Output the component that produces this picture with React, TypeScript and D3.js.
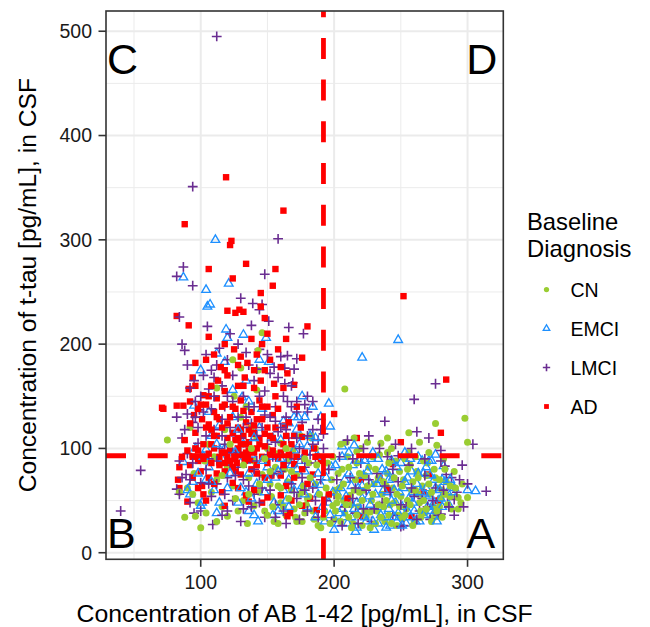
import React from 'react';
import * as d3 from 'd3';

// ---------- data ----------
const groups = ['CN', 'EMCI', 'LMCI', 'AD'];
const groupColors = ['#9ACD32', '#1E90FF', '#6A2D91', '#FF0000'];

const xTicks = [100, 200, 300];
const yTicks = [0, 100, 200, 300, 400, 500];
const xMinor = [50, 150, 250];
const yMinor = [50, 150, 250, 350, 450];
const cutoffX = 192;
const cutoffY = 93;
const quadrantLabels = ['C', 'D', 'B', 'A'];

const cnPoints: [number, number][] = [
  [75,108],[88,34],[100,24],[90,62],[95,76],[98,48],[103,88],[108,58],[112,70],[116,44],[120,82],[124,64],[128,95],[132,50],[136,72],[140,88],[144,58],[148,40],[152,66],[156,82],[160,48],[164,36],[168,60],[172,74],[176,30],[180,52],[184,40],[186,66],[188,26],[155,30],[162,44],[170,42],[174,56],[178,38],[166,90],[150,100],[142,110],[138,120],[130,130],[125,150],[118,118],[110,92],[106,104],[134,140],[157,95],[160,105],[163,80],[169,98],[175,112],[181,86],[186,100],[183,110],[120,35],[112,30],[96,35],[84,58],[140,45],[146,75],[153,54],[158,64],[171,34],[177,64],[179,46],[185,32],[189,56],[165,68],[128,40],[135,28],[92,120],
  [146,211],[143,194],[124,185],[130,177],[143,175],[112,158],[142,156],[209,106],[217,97],[240,96],[183,112],[181,54],
  [190,24],[193,40],[196,55],[198,70],[200,32],[202,48],[204,62],[206,80],[208,157],[208,38],[210,92],[212,55],[214,28],[216,70],[218,44],[220,100],[222,60],[224,34],[226,82],[228,50],[230,66],[232,40],[234,94],[236,56],[238,30],[240,76],[242,46],[244,62],[246,88],[248,36],[250,54],[252,70],[254,42],[256,96],[258,60],[260,30],[262,78],[264,48],[266,64],[268,38],[270,86],[272,56],[274,44],[276,72],[278,62],[280,52],[282,90],[284,68],[288,42],[290,78],[293,42],[293,53],[296,66],[298,129],[300,106],[276,124],[256,115],[264,106],[277,103],[300,53],[195,86],[205,104],[215,110],[225,106],[235,105],[240,110],[213,46],[219,58],[227,39],[233,72],[239,64],[245,48],[251,33],[257,84],[263,56],[269,74],[275,34],[281,60],[287,54],[217,86],[223,74],[229,92],[243,100],[253,90],[261,92],[271,96],[283,80],[201,60],[207,50],[231,28],[237,44],[247,26],[255,50],[265,40],[273,30],[279,44],[211,34],[221,26],[199,45],[203,76],[241,36],[249,78],[259,68],[267,88],
  [192,34],[194,62],[197,28],[199,92],[201,40],[203,54],[205,30],[207,66],[209,46],[211,82],[213,24],[215,60],[217,36],[219,76],[221,50],[223,40],[225,64],[227,24],[229,56],[231,80],[233,46],[235,34],[237,68],[239,50],[241,86],[243,28],[245,72],[247,56],[249,44],[251,64],[253,36],[255,80],[257,46],[259,26],[261,60],[263,72],[265,34],[267,50],[269,42],[271,66],[273,58],[275,80],[277,40],[279,70],[281,34],[283,56],[285,46],[287,64],[291,62],[295,48],
  [150,36],[154,44],[158,28],[166,52],[172,30],[176,58],[182,72],[187,84],[144,66],[136,56],[126,52],[104,38],[94,56],[160,62],[168,78],[174,46],[178,90],[148,90],[152,78],[132,84],[122,104],[116,74],[138,100],[164,100]
];

const emciPoints: [number, number][] = [
  [111,300],[87,264],[104,252],[105,236],[107,238],[121,258],[119,214],[120,206],[132,209],[149,206],[112,191],[118,183],[100,175],[144,185],[151,183],[134,165],[221,187],[248,204],[196,143],[184,140],[176,150],[170,130],[173,130],[166,124],[124,156],[131,149],[136,145],[95,141],[106,135],[87,87],[90,60],[101,48],[104,99],[197,121],[206,102],[276,94],[271,88],[282,83],[278,50],
  [92,56],[96,100],[100,45],[104,70],[108,112],[112,38],[116,90],[120,62],[124,130],[128,48],[132,104],[136,76],[140,36],[144,120],[148,58],[152,92],[156,72],[160,108],[164,50],[168,84],[172,118],[176,64],[180,44],[184,96],[188,56],[106,82],[114,122],[130,86],[138,94],[146,138],[154,110],[162,126],[170,98],[178,78],[186,34],[118,100],[134,58],[142,66],[150,82],[158,40],[166,70],[174,104],[182,112],[110,60],[94,68],[136,40],[143,30],[155,48],[162,60],[175,88],[188,76],[180,102],[190,130],
  [190,65],[193,30],[196,48],[198,82],[200,22],[202,58],[204,38],[206,92],[208,70],[210,28],[212,48],[214,84],[216,20],[218,62],[220,40],[222,74],[224,30],[226,54],[228,90],[230,22],[232,66],[234,44],[236,80],[238,34],[240,58],[242,26],[244,72],[246,48],[248,38],[250,86],[252,62],[254,28],[256,52],[258,78],[260,40],[262,66],[264,30],[266,88],[268,56],[270,44],[272,74],[274,36],[276,62],[280,52],[283,68],[286,46],[288,58],[300,60],[306,59],[206,42],[213,34],[221,52],[227,66],[233,28],[239,78],[245,60],[251,44],[257,34],[263,92],[269,62],[275,48],[281,70],[215,103],[229,96],[243,88],[253,96],[267,76],[273,88],[211,76],[223,88],[235,70],[247,30],[259,58],[217,48],[241,42],[255,72],
  [191,44],[194,72],[197,36],[199,58],[201,84],[203,28],[205,62],[207,34],[209,54],[211,96],[213,64],[215,42],[217,24],[219,88],[221,64],[223,34],[225,78],[227,46],[229,30],[231,56],[233,90],[235,36],[237,60],[239,24],[241,70],[243,50],[245,34],[247,82],[249,58],[251,26],[253,68],[255,40],[257,90],[259,48],[261,30],[263,76],[265,58],[267,36],[269,82],[271,54],[273,40],[275,70],[277,30],[279,60],[281,44],[285,58],[287,70],[290,62],
  [98,76],[102,92],[108,68],[114,48],[122,76],[126,96],[130,62],[138,52],[146,88],[150,70],[154,36],[160,90],[166,44],[172,80],[178,56],[184,66],[188,92],[170,60],[158,78],[140,110],[186,110],[178,130],[128,118],[112,104]
];

const lmciPoints: [number, number][] = [
  [112,495],[94,351],[158,301],[87,274],[82,265],[94,256],[148,267],[130,244],[139,239],[144,233],[146,238],[84,226],[105,217],[166,216],[138,218],[151,222],[165,189],[172,186],[155,178],[177,210],[163,177],[163,162],[169,163],[276,162],[260,147],[162,150],[165,145],[178,142],[184,145],[238,126],[271,110],[304,104],[314,59],[40,40],[55,79],[290,51],[285,54],[280,37],[88,194],[112,180],[110,168],[106,157],[90,133],[99,137],[89,75],[82,61],[95,38],[109,27],[100,67],[192,114],[243,89],[248,93],[283,83],[284,75],
  [86,200],[90,180],[95,165],[100,150],[104,190],[108,175],[116,160],[120,185],[124,170],[128,200],[132,150],[136,180],[140,165],[144,195],[148,155],[152,172],[156,140],[160,188],[164,130],[168,160],[172,145],[176,125],[180,135],[184,118],[188,108],
  [82,130],[86,110],[90,95],[94,125],[98,105],[102,135],[106,90],[110,118],[114,100],[118,140],[122,84],[126,112],[130,96],[134,130],[138,108],[142,88],[146,120],[150,104],[154,92],[158,116],[162,98],[166,110],[170,90],[174,100],[178,82],[182,94],[186,86],[190,118],[104,80],[112,66],[120,72],[128,82],[136,64],[144,74],[152,60],[160,78],[168,66],[176,72],[184,62],[190,70],[96,145],[116,128],[124,145],[132,120],[140,140],[148,132],[156,126],[164,118],[172,135],[180,112],
  [126,98],[134,86],[142,112],[118,104],[150,94],[138,124],[122,120],[130,110],
  [84,56],[92,48],[100,40],[108,54],[116,36],[124,50],[132,42],[140,56],[148,34],[156,46],[164,28],[172,52],[180,40],[188,34],[130,30],
  [192,100],[196,80],[200,56],[204,92],[208,44],[212,72],[216,38],[220,86],[224,60],[228,30],[232,76],[236,48],[240,92],[244,36],[248,68],[252,26],[256,84],[260,54],[264,40],[268,74],[272,32],[276,62],[280,88],[288,72],[292,58],[296,84],[300,66],[210,108],[226,112],[246,104],[262,116],[280,98],[198,30],[214,52],[230,42],[242,58],[254,44],[266,52],[278,36],[250,25],[218,28],[234,100],[270,44],[290,36],
  [84,88],[88,118],[92,70],[96,130],[100,92],[104,112],[108,138],[112,88],[116,112],[120,150],[124,96],[128,130],[132,70],[136,140],[140,80],[144,150],[148,90],[152,130],[156,106],[160,120],[164,86],[168,140],[172,110],[176,90],[180,150],[184,104],[188,128],[114,196],[122,210],[134,192],[142,176],[150,190],[158,168],[170,176],[110,150],[102,170],[92,158],[98,120],[106,66],[118,56],[126,74],[138,44],[146,62],[154,76],[162,40],[170,58],[178,60],[186,50],[174,32],[156,34],[144,48],[120,40],[86,72],[94,86],
  [194,50],[202,70],[206,26],[214,90],[222,42],[226,70],[238,64],[244,80],[250,46],[258,62],[262,32],[268,90],[274,50],[282,60],[286,44],[294,70],[297,44],[222,100],[258,100],[216,62]
];

const adPoints: [number, number][] = [
  [119,360],[162,328],[88,315],[123,299],[122,295],[106,272],[134,277],[124,263],[156,272],[154,256],[145,249],[82,227],[91,218],[106,207],[120,232],[126,230],[129,233],[132,231],[145,236],[148,225],[180,217],[164,205],[176,187],[170,161],[284,166],[252,246],[250,106],[280,115],[217,110],[200,133],[96,182],[94,168],[91,157],[102,151],[72,138],[82,141],[87,141],[71,139],[95,132],[101,128],[106,123],[84,82],[83,70],[90,49],[84,62],[102,56],[101,64],[220,70],[221,35],[234,72],[244,85],[258,35],[267,58],[271,75],[278,50],[276,41],[165,35],[184,75],[176,111],[163,122],[137,89],[153,74],[150,53],[136,49],[118,45],[124,67],[167,38],[182,52],[187,41],
  [104,185],[110,190],[115,178],[118,200],[125,195],[130,188],[135,182],[138,205],[142,190],[146,200],[150,210],[152,185],[158,195],[160,178],[165,172],[113,165],[120,170],[128,160],[133,168],[140,158],[145,165],[148,175],[155,162],[162,158],[108,160],[112,148],[118,155],
  [92,145],[98,138],[104,142],[110,135],[114,128],[118,142],[122,130],[126,138],[130,146],[134,125],[138,135],[142,128],[146,140],[150,120],[154,132],[158,138],[166,125],[170,112],[124,115],[128,120],[132,112],[136,118],[140,115],[108,118],[112,112],[96,115],[116,120],[120,110],[144,110],[148,102],[152,112],[175,120],[172,140],
  [90,98],[94,92],[98,88],[102,104],[106,95],[110,100],[114,92],[118,86],[122,98],[126,90],[130,104],[134,96],[138,80],[142,100],[146,92],[150,86],[154,98],[158,90],[162,104],[166,94],[170,85],[118,78],[124,82],[130,75],[142,76],[148,72],[112,76],[106,72],[100,78],[94,72],[160,74],[178,96],[185,100],[190,88],
  [128,100],[132,94],[136,106],[140,96],[126,108],[120,92],[144,104],[133,88],[127,86],
  [98,62],[104,50],[110,66],[116,58],[128,62],[134,55],[140,60],[146,48],[160,55],[168,50],[176,45],[196,56],[210,52],[240,60],
  [88,108],[92,124],[96,100],[100,142],[104,120],[108,104],[112,130],[116,96],[120,124],[124,140],[128,110],[132,136],[136,98],[140,122],[144,146],[148,114],[152,94],[156,120],[160,96],[164,112],[168,104],[172,92],[122,88],[126,78],[134,104],[138,114],[142,84],[118,96],[114,84],[110,112],[130,118],[146,128],[102,90],[98,98],[92,84],[86,92],[108,86],[150,140],[156,150],[116,140],[106,150],[96,160],[132,160],[140,175],[118,175],[128,180],[154,110],[162,84],[170,72],[164,64],[176,80],[180,66],[186,92]
];

const seriesPoints = [cnPoints, emciPoints, lmciPoints, adPoints];
// order in which the groups are interleaved when drawing (later = on top)
const drawOrder = [0, 3, 1, 2];

// ---------- layout ----------
const W = 650;
const H = 627;
const P = { left: 106, right: 503.3, top: 11, bottom: 559.3 };
const FONT = '"Liberation Sans", Arial, Helvetica, sans-serif';

const x = d3.scaleLinear().domain([29, 326.8]).range([P.left, P.right]);
const y = d3.scaleLinear().domain([-6.3, 519.4]).range([P.bottom, P.top]);

function Marker({ g, cx, cy, scale = 1 }: { g: number; cx: number; cy: number; scale?: number }) {
  const c = groupColors[g];
  if (g === 0) return <circle cx={cx} cy={cy} r={3.5 * scale} fill={c} />;
  if (g === 1) {
    const r = 5 * scale;
    const d = `M${cx},${cy - r}L${cx + r * 0.866},${cy + r * 0.5}L${cx - r * 0.866},${cy + r * 0.5}Z`;
    return <path d={d} fill="none" stroke={c} strokeWidth={1.35} />;
  }
  if (g === 2) {
    const a = 4.9 * scale;
    return (
      <path d={`M${cx - a},${cy}H${cx + a}M${cx},${cy - a}V${cy + a}`} stroke={c} strokeWidth={1.6} fill="none" />
    );
  }
  const s = 6.4 * scale;
  return <rect x={cx - s / 2} y={cy - s / 2} width={s} height={s} fill={c} />;
}

export default function App() {
  // interleave groups (like row order of the source data)
  const maxLen = Math.max(...seriesPoints.map((s) => s.length));
  const marks: { g: number; v: [number, number]; k: string }[] = [];
  for (let i = 0; i < maxLen; i++) {
    drawOrder.forEach((g) => {
      const s = seriesPoints[g];
      if (i < s.length) marks.push({ g, v: s[i], k: `${g}-${i}` });
    });
  }

  const legendY = [289.5, 328.5, 367.5, 406.5];

  return (
    <svg
      width={W}
      height={H}
      style={{ position: 'absolute', left: 0, top: 0, background: '#fff' }}
      fontFamily={FONT}
    >
      <rect x={0} y={0} width={W} height={H} fill="#fff" />
      <defs>
        <clipPath id="panel">
          <rect x={P.left} y={P.top} width={P.right - P.left} height={P.bottom - P.top} />
        </clipPath>
      </defs>
      {/* grid */}
      {xMinor.map((v) => (
        <line key={'xm' + v} x1={x(v)} x2={x(v)} y1={P.top} y2={P.bottom} stroke="#EBEBEB" strokeWidth={1} />
      ))}
      {yMinor.map((v) => (
        <line key={'ym' + v} y1={y(v)} y2={y(v)} x1={P.left} x2={P.right} stroke="#EBEBEB" strokeWidth={1} />
      ))}
      {xTicks.map((v) => (
        <line key={'xg' + v} x1={x(v)} x2={x(v)} y1={P.top} y2={P.bottom} stroke="#EBEBEB" strokeWidth={2} />
      ))}
      {yTicks.map((v) => (
        <line key={'yg' + v} y1={y(v)} y2={y(v)} x1={P.left} x2={P.right} stroke="#EBEBEB" strokeWidth={2} />
      ))}

      {/* points */}
      <g clipPath="url(#panel)">
        {marks.map((m) => (
          <Marker key={m.k} g={m.g} cx={x(m.v[0])} cy={y(m.v[1])} />
        ))}
        {/* cutoff lines */}
        <line
          x1={x(cutoffX)}
          x2={x(cutoffX)}
          y1={P.bottom}
          y2={P.top}
          stroke="#FF0000"
          strokeWidth={4.8}
          strokeDasharray="21 20.7"
        />
        <line
          x1={P.left}
          x2={P.right}
          y1={y(cutoffY)}
          y2={y(cutoffY)}
          stroke="#FF0000"
          strokeWidth={4.8}
          strokeDasharray="20 21.7"
        />
      </g>

      {/* quadrant labels */}
      <text x={P.left + 1} y={74} fontSize={43} fill="#000">{quadrantLabels[0]}</text>
      <text x={P.right - 6} y={74} fontSize={43} fill="#000" textAnchor="end">{quadrantLabels[1]}</text>
      <text x={P.left + 1} y={548} fontSize={43} fill="#000">{quadrantLabels[2]}</text>
      <text x={P.right - 8} y={548} fontSize={43} fill="#000" textAnchor="end">{quadrantLabels[3]}</text>

      {/* panel border */}
      <rect
        x={P.left}
        y={P.top}
        width={P.right - P.left}
        height={P.bottom - P.top}
        fill="none"
        stroke="#333333"
        strokeWidth={1.6}
      />

      {/* axes ticks */}
      {yTicks.map((v) => (
        <g key={'yt' + v}>
          <line x1={P.left - 7.5} x2={P.left} y1={y(v)} y2={y(v)} stroke="#333333" strokeWidth={1.6} />
          <text x={92} y={y(v)} dy="0.35em" textAnchor="end" fontSize={19.5} fill="#1a1a1a">
            {v}
          </text>
        </g>
      ))}
      {xTicks.map((v) => (
        <g key={'xt' + v}>
          <line x1={x(v)} x2={x(v)} y1={P.bottom} y2={P.bottom + 7.5} stroke="#333333" strokeWidth={1.6} />
          <text x={x(v)} y={589} textAnchor="middle" fontSize={19.5} fill="#1a1a1a">
            {v}
          </text>
        </g>
      ))}

      {/* axis titles */}
      <text x={(P.left + P.right) / 2} y={621.5} textAnchor="middle" fontSize={24.8} fill="#000">
        Concentration of AB 1-42 [pg/mL], in CSF
      </text>
      <text
        transform={`translate(36,${(P.top + P.bottom) / 2}) rotate(-90)`}
        textAnchor="middle"
        fontSize={24.6}
        fill="#000"
      >
        Concentration of t-tau [pg/mL], in CSF
      </text>

      {/* legend */}
      <text x={527} y={230} fontSize={23.8} fill="#000">Baseline</text>
      <text x={527} y={256.7} fontSize={23.8} fill="#000">Diagnosis</text>
      {groups.map((g, i) => (
        <g key={'lg' + g}>
          <Marker g={i} cx={546.5} cy={legendY[i]} scale={0.75} />
          <text x={570.5} y={legendY[i]} dy="0.36em" fontSize={19.5} fill="#000">
            {g}
          </text>
        </g>
      ))}
    </svg>
  );
}
